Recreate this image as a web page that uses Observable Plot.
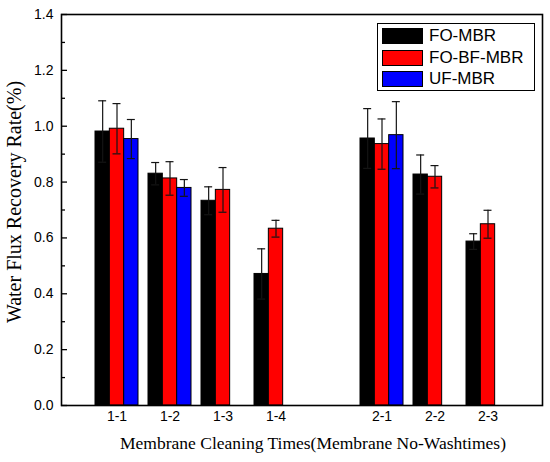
<!DOCTYPE html>
<html>
<head>
<meta charset="utf-8">
<script src="https://cdn.jsdelivr.net/npm/d3@7"></script>
<script src="https://cdn.jsdelivr.net/npm/@observablehq/plot@0.6"></script>
<style>
  html, body { margin: 0; padding: 0; background: #fff; }
  #wrap { position: relative; width: 550px; height: 462px; }
  #legend { position: absolute; left: 377px; top: 23px; width: 156px; height: 66px;
    border: 1px solid #000; background: #fff; font-family: "Liberation Sans", Arial, sans-serif; font-size: 17px; }
  .row { position: absolute; left: 4px; height: 16px; display: flex; align-items: center; }
  .sw { width: 39px; height: 14px; border: 1px solid #000; margin-right: 6px; }
</style>
</head>
<body>
<div id="wrap"></div>
<script>
// ---- data ----
const categories = ["1-1", "1-2", "1-3", "1-4", "2-1", "2-2", "2-3"];
const xDomain = ["1-1", "1-2", "1-3", "1-4", " ", "2-1", "2-2", "2-3"];
const seriesNames = ["FO-MBR", "FO-BF-MBR", "UF-MBR"];
const seriesColors = ["#000000", "#ff0000", "#0000ff"];
const foMBR      = [0.981, 0.830, 0.733, 0.471, 0.956, 0.827, 0.587];
const foMBRErr   = [0.110, 0.040, 0.050, 0.090, 0.107, 0.070, 0.028];
const foBFMBR    = [0.991, 0.813, 0.772, 0.633, 0.936, 0.819, 0.649];
const foBFMBRErr = [0.090, 0.060, 0.080, 0.030, 0.090, 0.040, 0.050];
const ufMBR      = [0.954, 0.779, null, null, 0.968, null, null];
const ufMBRErr   = [0.070, 0.030, null, null, 0.120, null, null];
const yTicks = [0, 0.2, 0.4, 0.6, 0.8, 1.0, 1.2, 1.4];
const yMinorTicks = [0.1, 0.3, 0.5, 0.7, 0.9, 1.1, 1.3];

const valuesBySeries = [foMBR, foBFMBR, ufMBR];
const errBySeries = [foMBRErr, foBFMBRErr, ufMBRErr];

// ---- layout ----
const W = 550, H = 462;
const mL = 61, mR = 8, mT = 14, mB = 57;
const innerW = W - mL - mR;
const pInner = 0.195, pOuter = (1 + pInner) / 2;
const bw = d3.scaleBand().domain(xDomain).range([0, innerW]).paddingInner(pInner).paddingOuter(pOuter).bandwidth();
const w = bw / 3;
const capHalf = 4;
const errColor = "#141414";

const marks = [];
seriesNames.forEach((name, i) => {
  const rows = categories.map((c, j) => ({cat: c, v: valuesBySeries[i][j], e: errBySeries[i][j]}))
    .filter(d => d.v != null);
  marks.push(Plot.barY(rows, {
    x: "cat", y: "v", fill: seriesColors[i], stroke: "#000", strokeWidth: 1,
    insetLeft: i * w, insetRight: (2 - i) * w
  }));
});
seriesNames.forEach((name, i) => {
  const rows = categories.map((c, j) => ({cat: c, v: valuesBySeries[i][j], e: errBySeries[i][j]}))
    .filter(d => d.v != null);
  const cl = i * w + w / 2 - capHalf, cr = bw - (i * w + w / 2 + capHalf);
  marks.push(Plot.ruleX(rows, {x: "cat", y1: d => d.v - d.e, y2: d => d.v + d.e, dx: (i - 1) * w, stroke: errColor, strokeWidth: 1.2}));
  marks.push(Plot.tickY(rows, {x: "cat", y: d => d.v + d.e, insetLeft: cl, insetRight: cr, stroke: errColor, strokeWidth: 1.2}));
  marks.push(Plot.tickY(rows, {x: "cat", y: d => d.v - d.e, insetLeft: cl, insetRight: cr, stroke: errColor, strokeWidth: 1.2}));
});

const chart = Plot.plot({
  width: W, height: H,
  marginLeft: mL, marginRight: mR, marginTop: mT, marginBottom: mB,
  style: {fontFamily: "'Liberation Sans', Arial, sans-serif", color: "#000", background: "#fff"},
  x: {domain: xDomain, paddingInner: pInner, paddingOuter: pOuter, label: null, axis: null},
  y: {domain: [0, 1.4], label: null, axis: null},
  marks: [
    ...marks,
    Plot.ruleY(yTicks, {y: d => d, insetRight: innerW - 6, stroke: "#000", strokeWidth: 1.3}),
    Plot.ruleY(yMinorTicks, {y: d => d, insetRight: innerW - 4, stroke: "#000", strokeWidth: 1.3}),
    Plot.frame({stroke: "#000", strokeWidth: 1.6}),
    Plot.axisX({tickSize: 0, tickPadding: 6, fontSize: 14, label: null}),
    Plot.axisY({ticks: yTicks, tickSize: 0, tickPadding: 8, fontSize: 14, tickFormat: d => d.toFixed(1), label: null}),
    Plot.text(["Membrane Cleaning Times(Membrane No-Washtimes)"], {frameAnchor: "bottom", dx: 11, dy: 43, text: d => d,
      fontFamily: "'Liberation Serif', 'Times New Roman', serif", fontSize: 17.5}),
    Plot.text(["Water Flux Recovery Rate(%)"], {frameAnchor: "left", textAnchor: "middle", dx: -47, dy: -8, rotate: -90, text: d => d,
      fontFamily: "'Liberation Serif', 'Times New Roman', serif", fontSize: 20})
  ]
});

const wrap = document.getElementById("wrap");
wrap.appendChild(chart);

const legend = document.createElement("div");
legend.id = "legend";
seriesNames.forEach((name, i) => {
  const row = document.createElement("div");
  row.className = "row";
  row.style.top = (4 + i * 21.7) + "px";
  const sw = document.createElement("div");
  sw.className = "sw";
  sw.style.background = seriesColors[i];
  const t = document.createElement("span");
  t.textContent = name;
  row.appendChild(sw); row.appendChild(t);
  legend.appendChild(row);
});
wrap.appendChild(legend);
</script>
</body>
</html>
